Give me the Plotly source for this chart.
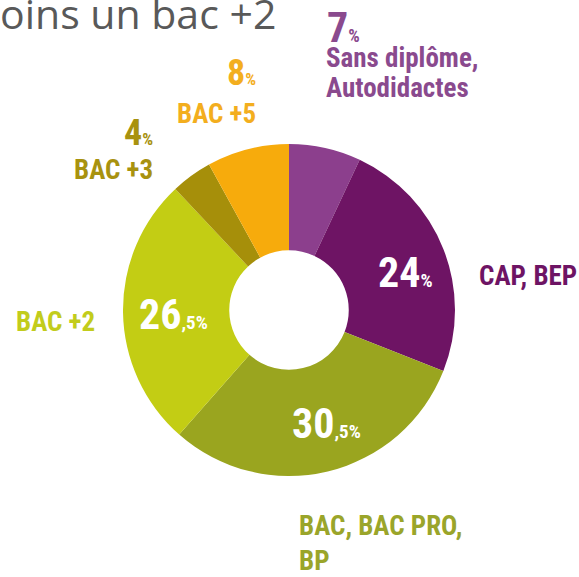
import plotly.graph_objects as go

# ---- data ----
categories = ["Sans diplôme, Autodidactes", "CAP, BEP", "BAC, BAC PRO, BP",
              "BAC +2", "BAC +3", "BAC +5"]
values = [7, 24, 30.5, 26.5, 4, 8]
slice_colors = ["#8C3F8D", "#6E1464", "#9AA51F", "#C3CD14", "#A68F0A", "#F7AB0C"]
label_colors = ["#8A4A8E", "#6E1464", "#9AA52A", "#C2CC1C", "#A8920F", "#F3AE1E"]
label_lines = [["Sans diplôme,", "Autodidactes"], ["CAP, BEP"], ["BAC, BAC PRO,", "BP"],
               ["BAC +2"], ["BAC +3"], ["BAC +5"]]
title_text = "oins un bac +2"

W, H = 579, 577
COND = "Roboto Condensed, Roboto, sans-serif"


def fmt_pct(v, big, small):
    ip = int(v)
    s = f"<span style='font-size:{big}px'>{ip}</span>"
    if v != ip:
        s += f"<span style='font-size:{small}px'>,{str(v).split('.')[1]}</span>"
    s += f"<span style='font-size:{small}px'>%</span>"
    return s


fig = go.Figure(go.Pie(
    labels=categories, values=values, sort=False, direction="clockwise",
    rotation=0, hole=0.36, textinfo="none", hoverinfo="label+percent",
    marker=dict(colors=slice_colors, line=dict(width=0)),
    domain=dict(x=[(289 - 166) / W, (289 + 166) / W],
                y=[(H - 310 - 166) / H, (H - 310 + 166) / H]),
    showlegend=False,
))


def px(x):
    return x / W


def py(y):
    return 1 - y / H


ann = []


def add(text, x, y, xanchor, color, size):
    ann.append(dict(text=text, x=px(x), y=py(y), xref="paper", yref="paper",
                    xanchor=xanchor, yanchor="middle", showarrow=False, align="left",
                    font=dict(family=COND, size=size, color=color, weight="bold")))


def add_lines(i, x, ys, xanchor, size):
    for line, y in zip(label_lines[i], ys):
        add(line, x, y, xanchor, label_colors[i], size)


LBL = 27
# Sans diplome
add(fmt_pct(values[0], 42, 18), 325, 27, "left", label_colors[0], 42)
add_lines(0, 324, [58, 88], "left", LBL)
# BAC +5
add(fmt_pct(values[5], 36, 17), 258, 73, "right", label_colors[5], 36)
add_lines(5, 258, [114], "right", LBL)
# BAC +3
add(fmt_pct(values[4], 36, 17), 155, 133, "right", label_colors[4], 36)
add_lines(4, 155, [170], "right", LBL)
# BAC +2
add_lines(3, 14, [322], "left", LBL)
# CAP, BEP
add_lines(1, 477, [276], "left", LBL)
# BAC, BAC PRO, BP
add_lines(2, 297, [526, 561], "left", LBL)

# inside values
add(fmt_pct(values[1], 42, 19), 405, 272, "center", "#FFFFFF", 42)
add(fmt_pct(values[3], 42, 19), 173, 315, "center", "#FFFFFF", 42)
add(fmt_pct(values[2], 42, 19), 326, 423, "center", "#FFFFFF", 42)

# title (cropped at the top-left, as in the source)
ann.append(dict(text=title_text, x=0, y=1, xref="paper", yref="paper",
                xanchor="left", yanchor="top", showarrow=False, xshift=-2, yshift=17,
                font=dict(family="Open Sans, sans-serif", size=41, color="#595959")))

fig.update_layout(width=W, height=H, autosize=False,
                  margin=dict(l=0, r=0, t=0, b=0),
                  paper_bgcolor="white", plot_bgcolor="white",
                  annotations=ann)

fig.write_html("out.html", post_script="document.body.style.margin='0';",
               config={"displayModeBar": False})
